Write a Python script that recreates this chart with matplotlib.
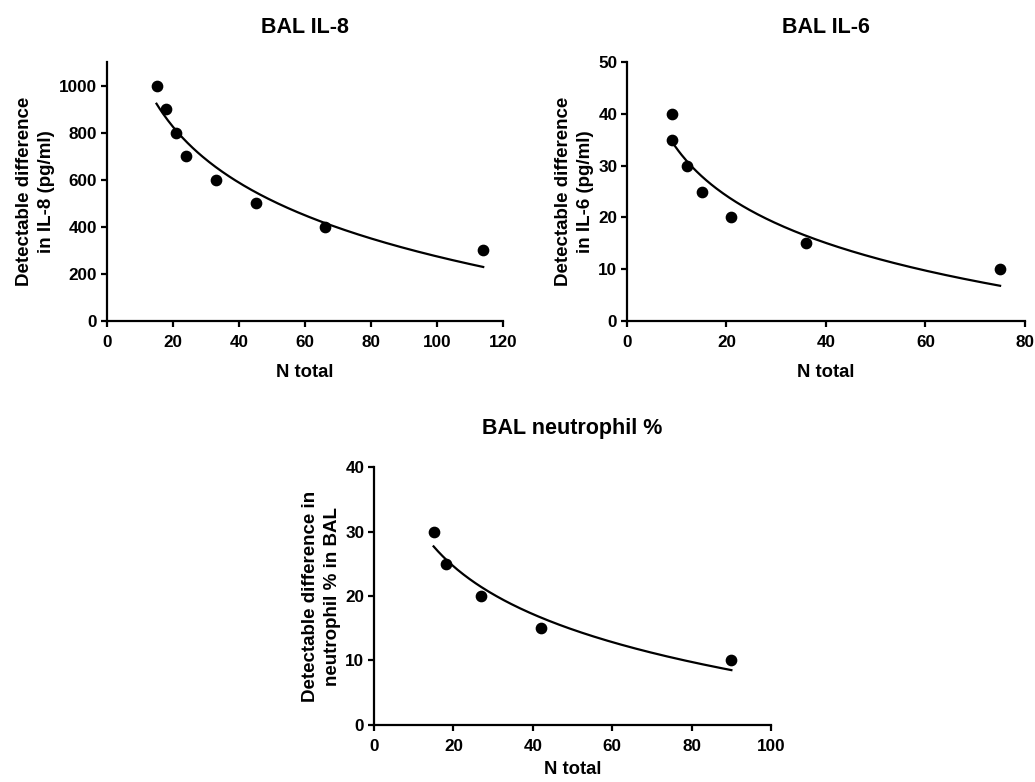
#!/usr/bin/env python3.12
"""
BAL sample size plots: detectable difference vs N total, with log fit.
"""
import numpy as np
import matplotlib
matplotlib.use("Agg")
import matplotlib.pyplot as plt

plt.rcParams["font.family"] = ["Liberation Sans", "DejaVu Sans"]
plt.rcParams["font.weight"] = "bold"

# BAL IL-8
il8_n = [15, 18, 21, 24, 33, 45, 66, 114]
il8_diff = [1000, 900, 800, 700, 600, 500, 400, 300]

# BAL IL-6
il6_n = [9, 9, 12, 15, 21, 36, 75]
il6_diff = [40, 35, 30, 25, 20, 15, 10]

# BAL neutrophil %
neut_n = [15, 18, 27, 42, 90]
neut_diff = [30, 25, 20, 15, 10]


def log_fit(x, y):
    """Least-squares fit y = a + b*ln(x), sampled over the data range."""
    x = np.asarray(x, float)
    b, a = np.polyfit(np.log(x), np.asarray(y, float), 1)
    xs = np.linspace(x.min(), x.max(), 200)
    return xs, a + b * np.log(xs)


def draw(ax, x, y, title, ylabel, xlim, xticks, ylim, yticks,
         title_pad, xlabel_pad=10):
    xs, ys = log_fit(x, y)
    ax.plot(xs, ys, color="black", lw=1.6)
    ax.scatter(x, y, s=55, color="black", zorder=3, clip_on=False)

    ax.set_xlim(*xlim)
    ax.set_ylim(*ylim)
    ax.set_xticks(xticks)
    ax.set_yticks(yticks)

    for side in ("top", "right"):
        ax.spines[side].set_visible(False)
    for side in ("left", "bottom"):
        ax.spines[side].set_linewidth(1.6)
    ax.tick_params(direction="out", length=4, width=1.6, labelsize=12.3)
    ax.tick_params(axis="x", pad=6)
    ax.tick_params(axis="y", pad=3)

    ax.set_title(title, fontsize=15.5, fontweight="bold", pad=title_pad)
    ax.set_xlabel("N total", fontsize=13.3, fontweight="bold", labelpad=xlabel_pad)
    ax.set_ylabel(ylabel, fontsize=13.5, fontweight="bold", labelpad=3,
                  linespacing=1.35)


fig = plt.figure(figsize=(10.35, 7.82), dpi=100, facecolor="white")

ax1 = fig.add_axes([0.1034, 0.5895, 0.3826, 0.3312])
draw(ax1, il8_n, il8_diff, "BAL IL-8",
     "Detectable difference\nin IL-8 (pg/ml)",
     (0, 120), range(0, 121, 20), (0, 1100), range(0, 1001, 200), 21)

ax2 = fig.add_axes([0.6058, 0.5895, 0.3845, 0.3312])
draw(ax2, il6_n, il6_diff, "BAL IL-6",
     "Detectable difference\nin IL-6 (pg/ml)",
     (0, 80), range(0, 81, 20), (0, 50), range(0, 51, 10), 21)

ax3 = fig.add_axes([0.3614, 0.0729, 0.3836, 0.3299])
draw(ax3, neut_n, neut_diff, "BAL neutrophil %",
     "Detectable difference in\nneutrophil % in BAL",
     (0, 100), range(0, 101, 20), (0, 40), range(0, 41, 10), 24,
     xlabel_pad=5)

fig.savefig("out.png", dpi=100, facecolor="white")
plt.close(fig)
